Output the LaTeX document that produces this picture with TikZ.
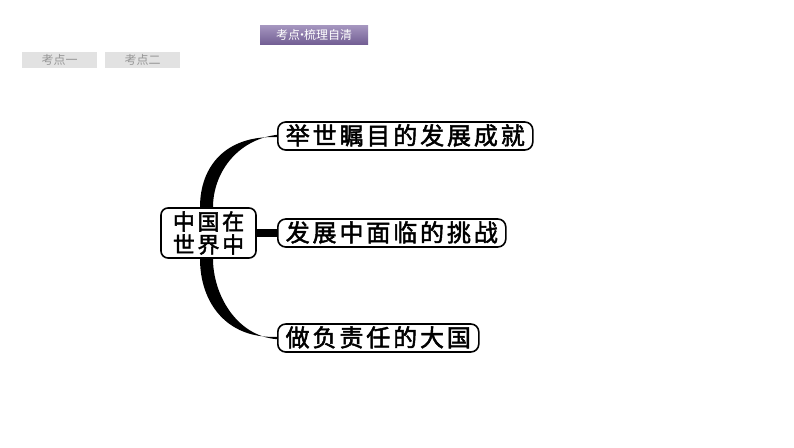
\documentclass[tikz,border=0pt]{standalone}
\usepackage{fontspec}
\usetikzlibrary{backgrounds}
\newfontfamily\cjk{Noto Sans CJK SC}
\newfontfamily\cjkbold[FakeBold=2,LetterSpace=12]{Noto Sans CJK SC}
\definecolor{tabpurple}{RGB}{128,106,165}
\definecolor{tabgray}{RGB}{226,226,226}
\definecolor{tabtext}{RGB}{150,150,150}

\begin{document}
\begin{tikzpicture}[x=1pt,y=-1pt,
  tabbox/.style={fill=tabgray,minimum width=75,minimum height=16,inner sep=0,font=\cjk\fontsize{12}{12}\selectfont,text=tabtext},
  topicbox/.style={draw,line width=1.6pt,rounded corners=8pt,fill=white,anchor=west,minimum height=28,
    text height=20,text depth=3,inner ysep=2.5,inner xsep=0,font=\cjkbold\fontsize{24}{24}\selectfont},
  rootbox/.style={draw,line width=1.6pt,rounded corners=7pt,fill=white,minimum width=95,minimum height=50,
    inner sep=0,align=center,font=\cjkbold\fontsize{22}{23}\selectfont}]

  \useasboundingbox (0,0) rectangle (794,447);

  % Tabs
  \node[top color=tabpurple!70!white,bottom color=tabpurple!90!black,minimum width=108,minimum height=19,inner sep=0,
    text=white,font=\cjk\fontsize{12}{12}\selectfont] (tab0) at (314,34.5) {考点\kern-4pt·\kern-4pt梳理自清};
  \node[tabbox] (tab1) at (59.5,60) {考点一};
  \node[tabbox] (tab2) at (142.5,60) {考点二};

  % Nodes
  \node[rootbox] (root) at (208.5,233) {中国在\\世界中};
  \node[topicbox,minimum width=255] (t1) at (277,136) {举世瞩目的发展成就};
  \node[topicbox,minimum width=228] (t2) at (277,233) {发展中面临的挑战};
  \node[topicbox,minimum width=201] (t3) at (277,338) {做负责任的大国};

  % Branches
  \begin{pgfonlayer}{background}
  \fill ([yshift=-1.2]t1.west) .. controls (226,135) and (200,166) .. (root.north -| 200,0)
    -- (root.north -| 213,0) .. controls (213,174) and (236,140) .. ([yshift=1.2]t1.west) -- cycle;
  \fill ([yshift=1.2]t3.west) .. controls (226,339) and (200,302) .. (root.south -| 200,0)
    -- (root.south -| 213,0) .. controls (213,294) and (236,336) .. ([yshift=-1.2]t3.west) -- cycle;
  \draw[line width=8pt] (root.east) -- (t2.west);
  \end{pgfonlayer}

\end{tikzpicture}
\end{document}
